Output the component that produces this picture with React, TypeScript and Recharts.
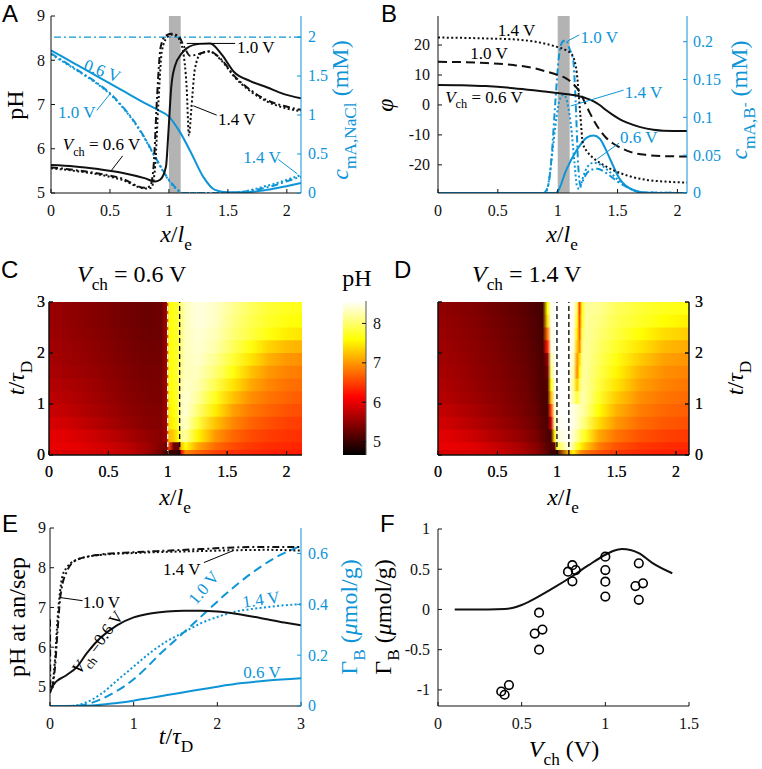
import React from "react";
import {
  ComposedChart,
  Line,
  Scatter,
  XAxis,
  YAxis,
  ReferenceArea,
  ReferenceLine,
  ReferenceDot,
} from "recharts";

const SERIF = "Liberation Serif";
const SANS = "Liberation Sans";
const BLUE = "#0e95d7";
const INK = "#111";
const GREY = "#b3b3b3";
const DASHDOT = "7 3 2 3";
const DOTTED = "2 2.4";
const DASHED = "9 5";

// ---- A: pH (left) and c mA,NaCl (right) along x/le
const aX06 = [0, 0.2, 0.4, 0.6, 0.8, 0.88, 0.925, 0.975, 0.995, 1.02, 1.05, 1.11, 1.15, 1.26, 1.35, 1.45, 1.55, 1.69, 1.83, 1.97, 2.12];
const aPh06 = [5.63, 5.6, 5.54, 5.46, 5.33, 5.26, 5.3, 5.6, 6.35, 7.4, 7.86, 8.16, 8.27, 8.37, 8.38, 8.12, 7.74, 7.53, 7.39, 7.24, 7.14];
const aX10 = [0, 0.2, 0.4, 0.6, 0.79, 0.84, 0.87, 0.9, 0.93, 0.97, 1.02, 1.08, 1.13, 1.18, 1.26, 1.34, 1.45, 1.55, 1.69, 1.83, 1.97, 2.12];
const aPh10 = [5.58, 5.52, 5.44, 5.33, 5.12, 5.15, 5.6, 7.2, 8.3, 8.55, 8.6, 8.55, 8.3, 8.1, 8.15, 8.2, 8.0, 7.66, 7.33, 7.1, 6.97, 6.88];
const aX14 = [0, 0.2, 0.4, 0.6, 0.8, 0.85, 0.88, 0.91, 0.94, 0.98, 1.03, 1.08, 1.12, 1.15, 1.17, 1.19, 1.22, 1.27, 1.34, 1.45, 1.55, 1.69, 1.83, 1.97, 2.12];
const aPh14 = [5.56, 5.5, 5.42, 5.3, 5.1, 5.12, 5.5, 7.0, 8.2, 8.5, 8.58, 8.5, 8.2, 7.4, 6.3, 6.9, 7.8, 8.15, 8.2, 7.98, 7.64, 7.3, 7.07, 6.93, 6.85];
const aCX06 = [0, 0.2, 0.4, 0.6, 0.8, 0.9, 1.0, 1.09, 1.19, 1.29, 1.39, 1.5, 1.65, 1.83, 1.97, 2.12];
const aC06 = [1.83, 1.66, 1.49, 1.32, 1.15, 1.07, 0.98, 0.79, 0.51, 0.21, 0.04, 0.01, 0.01, 0.04, 0.08, 0.13];
const aCX = [0, 0.2, 0.4, 0.5, 0.6, 0.7, 0.79, 0.9, 1.0, 1.07, 1.12, 1.3, 1.5, 1.6, 1.7, 1.8, 1.9, 2.0, 2.12];
const aC10 = [1.79, 1.6, 1.4, 1.28, 1.12, 0.93, 0.72, 0.42, 0.17, 0.05, 0.0, 0.0, 0.0, 0.01, 0.03, 0.06, 0.1, 0.15, 0.21];
const aC14 = [1.78, 1.59, 1.39, 1.27, 1.11, 0.92, 0.71, 0.41, 0.16, 0.04, 0.0, 0.0, 0.0, 0.01, 0.04, 0.08, 0.12, 0.17, 0.23];

// ---- B: potential phi (left) and c mA,B- (right)
const bX06 = [0, 0.2, 0.4, 0.63, 0.8, 0.91, 1.0, 1.13, 1.24, 1.3, 1.35, 1.4, 1.46, 1.52, 1.58, 1.69, 1.8, 1.88, 2.08];
const bPhi06 = [6.7, 6.6, 6.3, 5.6, 4.9, 4.4, 4.0, 3.3, 2.2, 1.2, 0, -1.6, -3.3, -4.8, -5.9, -7.4, -8.3, -8.6, -8.7];
const bX10 = [0, 0.2, 0.4, 0.63, 0.8, 0.91, 1.0, 1.07, 1.13, 1.19, 1.23, 1.27, 1.31, 1.35, 1.4, 1.46, 1.53, 1.6, 1.74, 1.9, 2.08];
const bPhi10 = [14.4, 14.3, 14.0, 13.3, 12.3, 11.1, 10.0, 8.9, 7.0, 3.9, 0.5, -2.8, -5.8, -8.3, -10.8, -12.8, -14.4, -15.6, -16.7, -17.1, -17.2];
const bX14 = [0, 0.2, 0.4, 0.63, 0.8, 0.91, 1.0, 1.07, 1.11, 1.13, 1.16, 1.19, 1.21, 1.25, 1.3, 1.38, 1.46, 1.6, 1.74, 1.9, 2.08];
const bPhi14 = [22.5, 22.4, 22.2, 21.9, 21.2, 20.3, 19.3, 18.3, 17.2, 16, 10.5, -3.9, -12.8, -15.8, -17.8, -20.0, -21.7, -23.8, -25, -25.6, -25.9];
const bCX06 = [0, 0.98, 1.0, 1.07, 1.16, 1.24, 1.3, 1.35, 1.4, 1.44, 1.52, 1.63, 1.75, 2.08];
const bC06 = [0, 0, 0.002, 0.03, 0.057, 0.073, 0.076, 0.072, 0.058, 0.044, 0.018, 0.004, 0, 0];
const bCX10 = [0, 0.88, 0.92, 0.95, 0.98, 1.01, 1.04, 1.07, 1.1, 1.13, 1.15, 1.17, 1.19, 1.22, 1.27, 1.33, 1.4, 1.5, 1.6, 1.7, 2.08];
const bC10 = [0, 0, 0.01, 0.05, 0.12, 0.18, 0.2, 0.202, 0.19, 0.175, 0.12, 0.04, 0.01, 0.02, 0.03, 0.032, 0.027, 0.015, 0.006, 0.001, 0];
const bCX14 = [0, 0.9, 0.93, 0.96, 0.99, 1.02, 1.05, 1.08, 1.11, 1.14, 1.16, 1.18, 1.21, 1.25, 1.3, 1.35, 1.42, 1.5, 1.6, 1.7, 2.08];
const bC14 = [0, 0, 0.02, 0.06, 0.1, 0.125, 0.13, 0.12, 0.09, 0.04, 0.01, 0.005, 0.02, 0.035, 0.04, 0.038, 0.03, 0.018, 0.006, 0.001, 0];

// ---- C / D: pH maps, bands of t (top band first), pH sampled at the x stops
const T_EDGES = [0, 0.1, 0.25, 0.5, 0.75, 1, 1.25, 1.5, 1.75, 2, 2.25, 2.5, 2.75, 3];
const cXs = [0, 0.15, 0.3, 0.5, 0.7, 0.85, 0.95, 0.99, 1.01, 1.05, 1.09, 1.11, 1.15, 1.25, 1.4, 1.55, 1.7, 1.85, 2.0, 2.13];
const cRows = [
  [5.55, 5.5, 5.45, 5.38, 5.3, 5.27, 5.3, 5.6, 7.6, 7.7, 7.8, 8.1, 8.3, 8.45, 8.35, 8.15, 7.95, 7.8, 7.72, 7.68],
  [5.55, 5.5, 5.45, 5.38, 5.3, 5.27, 5.3, 5.6, 7.6, 7.7, 7.8, 8.1, 8.3, 8.45, 8.35, 8.1, 7.9, 7.75, 7.65, 7.6],
  [5.57, 5.52, 5.47, 5.4, 5.32, 5.28, 5.3, 5.6, 7.6, 7.7, 7.8, 8.1, 8.3, 8.42, 8.3, 8.05, 7.85, 7.65, 7.5, 7.45],
  [5.6, 5.55, 5.5, 5.42, 5.34, 5.3, 5.32, 5.6, 7.6, 7.7, 7.8, 8.15, 8.3, 8.4, 8.25, 7.95, 7.65, 7.35, 7.2, 7.15],
  [5.62, 5.57, 5.52, 5.44, 5.36, 5.32, 5.33, 5.6, 7.6, 7.7, 7.8, 8.15, 8.3, 8.38, 8.15, 7.8, 7.45, 7.15, 7.0, 6.95],
  [5.65, 5.6, 5.55, 5.47, 5.38, 5.34, 5.35, 5.6, 7.6, 7.7, 7.85, 8.2, 8.3, 8.33, 8.05, 7.65, 7.25, 7.0, 6.88, 6.83],
  [5.7, 5.65, 5.6, 5.5, 5.4, 5.36, 5.37, 5.6, 7.6, 7.7, 7.85, 8.25, 8.35, 8.28, 7.9, 7.45, 7.1, 6.9, 6.78, 6.74],
  [5.75, 5.7, 5.63, 5.53, 5.43, 5.38, 5.38, 5.6, 7.55, 7.65, 7.85, 8.3, 8.4, 8.2, 7.7, 7.25, 6.95, 6.8, 6.7, 6.65],
  [5.82, 5.76, 5.68, 5.57, 5.46, 5.4, 5.4, 5.6, 7.5, 7.6, 7.85, 8.3, 8.4, 8.05, 7.5, 7.05, 6.82, 6.7, 6.6, 6.57],
  [5.9, 5.85, 5.76, 5.63, 5.5, 5.43, 5.42, 5.6, 7.45, 7.55, 7.8, 8.3, 8.35, 7.85, 7.25, 6.9, 6.7, 6.58, 6.5, 6.47],
  [5.98, 5.95, 5.88, 5.75, 5.6, 5.5, 5.45, 5.6, 7.2, 7.3, 7.6, 8.15, 8.2, 7.55, 7.0, 6.72, 6.56, 6.47, 6.42, 6.4],
  [6.0, 6.0, 5.95, 5.85, 5.7, 5.55, 5.4, 5.3, 6.5, 5.3, 5.25, 7.2, 7.6, 7.1, 6.75, 6.55, 6.45, 6.38, 6.35, 6.33],
  [5.9, 5.92, 5.9, 5.85, 5.75, 5.55, 5.3, 5.1, 5.05, 5.0, 5.0, 6.0, 6.9, 6.7, 6.5, 6.4, 6.35, 6.3, 6.28, 6.27],
];
const dXs = [0, 0.15, 0.3, 0.5, 0.7, 0.82, 0.88, 0.92, 0.95, 0.98, 1.0, 1.1, 1.14, 1.17, 1.19, 1.21, 1.24, 1.35, 1.5, 1.7, 1.9, 2.11];
const dRows = [
  [5.5, 5.45, 5.4, 5.3, 5.2, 5.1, 5.05, 7.6, 8.5, 8.55, 8.57, 8.57, 8.5, 7.9, 6.5, 7.6, 8.2, 8.15, 7.95, 7.8, 7.7, 7.65],
  [5.52, 5.47, 5.42, 5.32, 5.22, 5.12, 5.06, 7.4, 8.5, 8.55, 8.57, 8.57, 8.5, 7.7, 6.6, 7.7, 8.2, 8.1, 7.9, 7.75, 7.6, 7.5],
  [5.55, 5.5, 5.44, 5.35, 5.24, 5.13, 5.06, 6.8, 8.45, 8.55, 8.57, 8.57, 8.45, 7.5, 6.7, 7.9, 8.2, 8.05, 7.85, 7.6, 7.4, 7.3],
  [5.58, 5.52, 5.46, 5.37, 5.26, 5.15, 5.07, 6.3, 8.4, 8.55, 8.57, 8.57, 8.4, 7.3, 6.9, 8.0, 8.2, 8.0, 7.75, 7.45, 7.2, 7.1],
  [5.6, 5.55, 5.48, 5.39, 5.28, 5.17, 5.08, 5.5, 8.2, 8.5, 8.57, 8.57, 8.3, 7.0, 7.4, 8.1, 8.2, 7.95, 7.65, 7.3, 7.05, 6.98],
  [5.63, 5.58, 5.5, 5.41, 5.3, 5.19, 5.09, 5.3, 8.0, 8.5, 8.57, 8.57, 8.2, 6.9, 7.6, 8.15, 8.2, 7.9, 7.55, 7.15, 6.95, 6.88],
  [5.67, 5.61, 5.53, 5.43, 5.32, 5.2, 5.1, 5.15, 7.6, 8.45, 8.57, 8.57, 8.1, 7.3, 7.9, 8.2, 8.2, 7.85, 7.45, 7.05, 6.88, 6.8],
  [5.72, 5.65, 5.57, 5.46, 5.34, 5.22, 5.11, 5.1, 7.2, 8.4, 8.57, 8.57, 8.2, 7.8, 8.1, 8.25, 8.2, 7.75, 7.3, 6.95, 6.8, 6.73],
  [5.8, 5.72, 5.63, 5.5, 5.37, 5.25, 5.13, 5.08, 6.5, 8.3, 8.55, 8.57, 8.45, 8.35, 8.3, 8.25, 8.15, 7.6, 7.15, 6.85, 6.72, 6.66],
  [5.88, 5.8, 5.7, 5.56, 5.42, 5.3, 5.17, 5.1, 5.8, 8.2, 8.5, 8.57, 8.45, 8.35, 8.25, 8.15, 8.0, 7.4, 7.0, 6.75, 6.63, 6.58],
  [5.97, 5.92, 5.82, 5.66, 5.5, 5.36, 5.22, 5.12, 5.1, 7.5, 8.4, 8.55, 8.35, 8.15, 8.0, 7.85, 7.7, 7.1, 6.8, 6.6, 6.5, 6.45],
  [6.0, 6.0, 5.95, 5.8, 5.62, 5.45, 5.3, 5.18, 5.1, 5.2, 7.8, 8.5, 8.1, 7.8, 7.6, 7.45, 7.3, 6.85, 6.6, 6.45, 6.38, 6.35],
  [5.9, 5.92, 5.9, 5.82, 5.68, 5.5, 5.35, 5.2, 5.05, 5.0, 5.2, 7.2, 7.5, 7.2, 7.0, 6.9, 6.8, 6.6, 6.45, 6.35, 6.3, 6.28],
];

// ---- E: pH at anode/separator (left) and Gamma_B (right) vs t/tauD
const eT06 = [0, 0.04, 0.2, 0.32, 0.44, 0.6, 0.8, 1.0, 1.2, 1.4, 1.6, 1.8, 2.0, 2.2, 2.5, 2.8, 3.0];
const ePh06 = [4.85, 5.05, 5.3, 5.5, 5.85, 6.23, 6.55, 6.75, 6.85, 6.9, 6.92, 6.92, 6.9, 6.85, 6.74, 6.62, 6.55];
const eT10 = [0, 0.005, 0.03, 0.06, 0.09, 0.12, 0.15, 0.2, 0.32, 0.6, 1.0, 1.4, 1.8, 2.4, 3.0];
const ePh10 = [6.7, 4.9, 5.0, 5.5, 6.4, 7.2, 7.6, 7.9, 8.2, 8.33, 8.39, 8.43, 8.47, 8.52, 8.52];
const eT14 = [0, 0.03, 0.06, 0.09, 0.12, 0.15, 0.2, 0.32, 0.6, 1.0, 1.4, 1.8, 2.2, 2.6, 3.0];
const ePh14 = [5.0, 5.1, 5.7, 6.7, 7.4, 7.8, 8.0, 8.2, 8.32, 8.37, 8.4, 8.42, 8.44, 8.45, 8.43];
const eGT06 = [0, 0.5, 0.8, 1.0, 1.2, 1.4, 1.7, 2.0, 2.3, 2.6, 3.0];
const eG06 = [0, 0.002, 0.012, 0.021, 0.032, 0.043, 0.06, 0.076, 0.09, 0.1, 0.109];
const eGT10 = [0, 0.3, 0.45, 0.6, 0.75, 0.9, 1.0, 1.15, 1.3, 1.5, 1.8, 2.1, 2.4, 2.7, 3.0];
const eG10 = [0, 0, 0.008, 0.025, 0.05, 0.08, 0.105, 0.15, 0.2, 0.26, 0.35, 0.44, 0.52, 0.585, 0.63];
const eGT14 = [0, 0.25, 0.4, 0.6, 0.8, 1.0, 1.2, 1.4, 1.6, 1.8, 2.0, 2.2, 2.5, 2.8, 3.0];
const eG14 = [0, 0, 0.01, 0.045, 0.1, 0.155, 0.21, 0.255, 0.29, 0.325, 0.35, 0.37, 0.385, 0.396, 0.4];

// ---- F: Gamma_B vs Vch, model curve and experiments
const fV = [0.1, 0.2, 0.3, 0.4, 0.45, 0.5, 0.6, 0.7, 0.8, 0.9, 1.0, 1.05, 1.1, 1.15, 1.2, 1.28, 1.4];
const fG = [0, 0, 0, 0.005, 0.02, 0.056, 0.16, 0.28, 0.41, 0.55, 0.68, 0.73, 0.75, 0.74, 0.7, 0.58, 0.45];
const fExpV = [0.378, 0.398, 0.424, 0.578, 0.604, 0.624, 0.604, 0.777, 0.803, 0.823, 0.803, 1.0, 1.0, 1.0, 1.0, 1.2, 1.18, 1.225, 1.2];
const fExpG = [-1.02, -1.06, -0.94, -0.3, -0.04, -0.25, -0.5, 0.47, 0.55, 0.49, 0.35, 0.656, 0.49, 0.345, 0.16, 0.573, 0.29, 0.325, 0.12];

const X_TICKS = [0, 0.5, 1, 1.5, 2];
const T_TICKS = [0, 1, 2, 3];
const PH_MIN = 4.66;
const PH_MAX = 8.57;

const pts = (xs: number[], ys: number[]) => xs.map((x, i) => ({ x, y: ys[i] }));

// matlab "hot" colormap
function hot(ph: number) {
  const f = Math.min(1, Math.max(0, (ph - PH_MIN) / (PH_MAX - PH_MIN)));
  const r = Math.min(1, f / 0.375);
  const g = Math.min(1, Math.max(0, (f - 0.375) / 0.375));
  const b = Math.min(1, Math.max(0, (f - 0.75) / 0.25));
  return `rgb(${Math.round(r * 255)},${Math.round(g * 255)},${Math.round(b * 255)})`;
}
const CB_STOPS = [PH_MIN, PH_MIN + 0.375 * (PH_MAX - PH_MIN), PH_MIN + 0.75 * (PH_MAX - PH_MIN), PH_MAX];

type Seg = { t: string; it?: boolean; dy?: number; sc?: number };

function rich(
  segs: Seg[],
  x: number,
  y: number,
  o: { size?: number; fill?: string; anchor?: string; rot?: number; font?: string } = {}
) {
  const size = o.size ?? 17;
  let cur = 0;
  return (
    <text
      x={x}
      y={y}
      fontSize={size}
      fontFamily={o.font ?? SERIF}
      fill={o.fill ?? "#000"}
      textAnchor={(o.anchor ?? "start") as any}
      transform={o.rot ? `rotate(${o.rot} ${x} ${y})` : undefined}
    >
      {segs.map((s, k) => {
        const target = (s.dy ?? 0) * size;
        const d = target - cur;
        cur = target;
        return (
          <tspan key={k} dy={d} fontStyle={s.it ? "italic" : "normal"} fontSize={(s.sc ?? 1) * size}>
            {s.t}
          </tspan>
        );
      })}
    </text>
  );
}

const volts = (v: string): Seg[] => [{ t: `${v} V` }];
const vch = (v: string, eq = "\u00a0=\u00a0"): Seg[] => [
  { t: "V", it: true },
  { t: "ch", dy: 0.33, sc: 0.72 },
  { t: `${eq}${v} V`, dy: 0 },
];
const X_LE: Seg[] = [{ t: "x", it: true }, { t: "/" }, { t: "l", it: true }, { t: "e", dy: 0.35, sc: 0.72 }];
const T_TD: Seg[] = [{ t: "t", it: true }, { t: "/" }, { t: "τ", it: true }, { t: "D", dy: 0.35, sc: 0.72 }];
const GAMMA_B: Seg[] = [{ t: "Γ" }, { t: "B", dy: 0.35, sc: 0.72 }, { t: "\u00a0(", dy: 0 }, { t: "μ", it: true }, { t: "mol/g)" }];
const C_NACL: Seg[] = [{ t: "c", it: true }, { t: "mA,NaCl", dy: 0.35, sc: 0.72 }, { t: "\u00a0(mM)", dy: 0 }];
const C_B: Seg[] = [{ t: "c", it: true }, { t: "mA,B", dy: 0.35, sc: 0.72 }, { t: "-", dy: 0.08, sc: 0.6 }, { t: "\u00a0(mM)", dy: 0 }];
const V_AX: Seg[] = [{ t: "V", it: true }, { t: "ch", dy: 0.35, sc: 0.72 }, { t: "\u00a0(V)", dy: 0 }];

// tick labels drawn by hand so that the serif face and size stick
const tickText = (color: string, show: boolean) => (p: any) => {
  if (!show) return <g />;
  const va = p.verticalAnchor;
  const dy = va === "start" ? "0.71em" : va === "middle" ? "0.34em" : "0";
  return (
    <text
      x={p.x}
      y={p.y}
      dy={dy}
      textAnchor={p.textAnchor}
      fill={color}
      fontSize={16}
      fontFamily={SERIF}
      className="tick-serif"
      style={{ fontFamily: SERIF, fontSize: 16 }}
    >
      {String(p.payload.value)}
    </text>
  );
};

const axisProps = (color: string, margin: number, labels = true) => ({
  type: "number" as const,
  tickSize: -4,
  tickMargin: margin,
  axisLine: { stroke: color, strokeWidth: 1 },
  tickLine: { stroke: color, strokeWidth: 1 },
  tick: tickText(color, labels),
  interval: 0 as const,
  allowDataOverflow: true,
});

const note = (key: string, x: number, y: number, segs: Seg[], o: { fill?: string; rot?: number; yId?: string | number } = {}) => (
  <ReferenceDot
    key={key}
    x={x}
    y={y}
    yAxisId={o.yId ?? 0}
    r={1}
    ifOverflow="visible"
    shape={(p: any) => rich(segs, p.cx, p.cy, { fill: o.fill ?? "#000", rot: o.rot })}
  />
);

const lead = (key: string, x1: number, y1: number, x2: number, y2: number, color = "#000", yId: string | number = 0) => (
  <ReferenceLine
    key={key}
    yAxisId={yId}
    segment={[{ x: x1, y: y1 }, { x: x2, y: y2 }]}
    stroke={color}
    strokeWidth={1}
    ifOverflow="visible"
  />
);

const line = (key: string, xs: number[], ys: number[], color: string, dash?: string, yId: string | number = 0, w = 2) => (
  <Line
    key={key}
    data={pts(xs, ys)}
    dataKey="y"
    yAxisId={yId}
    type="monotone"
    stroke={color}
    strokeWidth={w}
    strokeDasharray={dash}
    dot={false}
    activeDot={false}
    isAnimationActive={false}
  />
);

function PanelA() {
  return (
    <ComposedChart width={380} height={255} margin={{ top: 16, right: 0, bottom: 0, left: 0 }}>
      <ReferenceArea x1={1} x2={1.1} fill={GREY} fillOpacity={1} stroke="none" />
      <ReferenceLine yAxisId="r" y={2} stroke={BLUE} strokeWidth={1.2} strokeDasharray={DASHDOT} />
      {line("c06", aCX06, aC06, BLUE, undefined, "r")}
      {line("c10", aCX, aC10, BLUE, DASHDOT, "r")}
      {line("c14", aCX, aC14, BLUE, DOTTED, "r")}
      {line("p06", aX06, aPh06, INK)}
      {line("p10", aX10, aPh10, INK, DASHDOT)}
      {line("p14", aX14, aPh14, INK, DOTTED)}
      <XAxis {...axisProps(INK, 16)} dataKey="x" domain={[0, 2.12]} ticks={X_TICKS} height={62} />
      <XAxis {...axisProps(INK, 0, false)} xAxisId="top" orientation="top" domain={[0, 2.12]} ticks={X_TICKS} height={0} />
      <YAxis {...axisProps(INK, 10)} domain={[5, 9]} ticks={[5, 6, 7, 8, 9]} width={51} />
      <YAxis {...axisProps(BLUE, 11)} yAxisId="r" orientation="right" domain={[0, 2.27]} ticks={[0, 0.5, 1, 1.5, 2]} width={79} />
      {lead("l1", 1.151, 8.38, 1.561, 8.38)}
      {note("n1", 1.578, 8.16, volts("1.0"))}
      {lead("l2", 1.207, 6.97, 1.405, 6.76)}
      {note("n2", 1.416, 6.54, volts("1.4"))}
      {lead("l3", 0.515, 5.52, 0.608, 5.84)}
      {note("n3", 0.1, 5.97, vch("0.6"))}
      {note("n4", 0.27, 1.58, volts("0.6"), { fill: BLUE, rot: 20, yId: "r" })}
      {lead("l5", 0.388, 1.06, 0.5, 1.27, BLUE, "r")}
      {note("n5", 0.06, 0.96, volts("1.0"), { fill: BLUE, yId: "r" })}
      {lead("l6", 1.928, 0.43, 2.09, 0.244, BLUE, "r")}
      {note("n6", 1.63, 0.385, volts("1.4"), { fill: BLUE, yId: "r" })}
    </ComposedChart>
  );
}

function PanelB() {
  return (
    <ComposedChart width={382} height={255} margin={{ top: 16, right: 0, bottom: 0, left: 0 }}>
      <ReferenceArea x1={1} x2={1.1} fill={GREY} fillOpacity={1} stroke="none" />
      {line("c06", bCX06, bC06, BLUE, undefined, "r")}
      {line("c10", bCX10, bC10, BLUE, DASHDOT, "r")}
      {line("c14", bCX14, bC14, BLUE, DOTTED, "r")}
      {line("p06", bX06, bPhi06, INK)}
      {line("p10", bX10, bPhi10, INK, DASHED)}
      {line("p14", bX14, bPhi14, INK, DOTTED)}
      <XAxis {...axisProps(INK, 16)} dataKey="x" domain={[0, 2.08]} ticks={X_TICKS} height={62} />
      <XAxis {...axisProps(INK, 0, false)} xAxisId="top" orientation="top" domain={[0, 2.08]} ticks={X_TICKS} height={0} />
      <YAxis {...axisProps(INK, 12)} domain={[-29.4, 29.7]} ticks={[-20, -10, 0, 10, 20]} width={58} />
      <YAxis {...axisProps(BLUE, 10)} yAxisId="r" orientation="right" domain={[0, 0.234]} ticks={[0, 0.05, 0.1, 0.15, 0.2]} width={75} />
      {note("n1", 0.5, 23, volts("1.4"))}
      {note("n2", 0.27, 15.3, volts("1.0"))}
      {note("n3", 0.06, 0.8, vch("0.6"))}
      {lead("l4", 1.083, 0.201, 1.18, 0.209, BLUE, "r")}
      {note("n4", 1.19, 0.198, volts("1.0"), { fill: BLUE, yId: "r" })}
      {lead("l5", 1.108, 0.115, 1.55, 0.136, BLUE, "r")}
      {note("n5", 1.56, 0.126, volts("1.4"), { fill: BLUE, yId: "r" })}
      {lead("l6", 1.33, 0.045, 1.513, 0.066, BLUE, "r")}
      {note("n6", 1.52, 0.066, volts("0.6"), { fill: BLUE, yId: "r" })}
    </ComposedChart>
  );
}

type HeatProps = {
  pid: string;
  rows: number[][];
  xMax: number;
  width: number;
  margin: { top: number; right: number; bottom: number; left: number };
  leftW: number;
  rightW: number;
  labelsRight: boolean;
  firstSep: string;
};

const heatAxes = (p: HeatProps) => [
  <XAxis key="xb" {...axisProps(INK, 15)} dataKey="x" domain={[0, p.xMax]} ticks={X_TICKS} height={55} />,
  <XAxis key="xt" {...axisProps(INK, 0, false)} xAxisId="top" orientation="top" domain={[0, p.xMax]} ticks={X_TICKS} height={0} />,
  <YAxis key="yl" {...axisProps(INK, 8, !p.labelsRight)} domain={[0, 3]} ticks={T_TICKS} width={p.leftW} />,
  <YAxis key="yr" {...axisProps(INK, 10, p.labelsRight)} yAxisId="r" orientation="right" domain={[0, 3]} ticks={T_TICKS} width={p.rightW} />,
];

function HeatPanel(p: HeatProps) {
  const n = p.rows.length;
  return (
    <div style={{ position: "relative", width: p.width, height: 255 }}>
      <ComposedChart width={p.width} height={255} margin={p.margin}>
        {p.rows.map((_, k) => (
          <ReferenceArea
            key={k}
            x1={0}
            x2={p.xMax}
            y1={Math.max(0, T_EDGES[n - 1 - k] - 0.02)}
            y2={T_EDGES[n - k]}
            fill={`url(#${p.pid}${k})`}
            fillOpacity={1}
            stroke="none"
            ifOverflow="hidden"
          />
        ))}
        <ReferenceLine x={1} stroke={p.firstSep} strokeWidth={1.3} strokeDasharray="5 3" />
        <ReferenceLine x={1.1} stroke="#000" strokeWidth={1.3} strokeDasharray="5 3" />
        {heatAxes({ ...p, labelsRight: p.labelsRight })}
      </ComposedChart>
      {/* second, transparent chart carries the box and ticks over the map */}
      <div style={{ position: "absolute", left: 0, top: 0 }}>
        <ComposedChart width={p.width} height={255} margin={p.margin}>
          {heatAxes(p)}
        </ComposedChart>
      </div>
    </div>
  );
}

function ColorBar() {
  return (
    <ComposedChart width={63} height={255} margin={{ top: 46, right: 0, bottom: 55, left: 10 }}>
      <XAxis {...axisProps(INK, 0, false)} dataKey="x" domain={[0, 1]} ticks={[0, 1]} height={0} tickLine={false} axisLine={{ stroke: "#555" }} />
      <XAxis {...axisProps(INK, 0, false)} xAxisId="top" orientation="top" domain={[0, 1]} ticks={[0, 1]} height={0} tickLine={false} axisLine={{ stroke: "#555" }} />
      <ReferenceArea x1={0} x2={1} y1={PH_MIN} y2={PH_MAX} fill="url(#cbar)" fillOpacity={1} stroke="none" ifOverflow="hidden" />
      <YAxis {...axisProps(INK, 0, false)} yAxisId="l" domain={[PH_MIN, PH_MAX]} ticks={[5, 6, 7, 8]} width={0} tickLine={false} axisLine={{ stroke: "#555" }} />
      <YAxis {...axisProps(INK, 11)} orientation="right" domain={[PH_MIN, PH_MAX]} ticks={[5, 6, 7, 8]} width={30} axisLine={{ stroke: "#555" }} />
    </ComposedChart>
  );
}

function PanelE() {
  return (
    <ComposedChart width={380} height={259} margin={{ top: 18, right: 0, bottom: 0, left: 0 }}>
      {line("g06", eGT06, eG06, BLUE, undefined, "r")}
      {line("g10", eGT10, eG10, BLUE, DASHED, "r")}
      {line("g14", eGT14, eG14, BLUE, DOTTED, "r")}
      {line("p06", eT06, ePh06, INK)}
      {line("p10", eT10, ePh10, INK, DASHDOT)}
      {line("p14", eT14, ePh14, INK, DOTTED)}
      <XAxis {...axisProps(INK, 16)} dataKey="x" domain={[0, 3]} ticks={T_TICKS} height={63} />
      <XAxis {...axisProps(INK, 0, false)} xAxisId="top" orientation="top" domain={[0, 3]} ticks={T_TICKS} height={0} />
      <YAxis {...axisProps(INK, 8)} domain={[4.52, 9]} ticks={[5, 6, 7, 8, 9]} width={50} />
      <YAxis {...axisProps(BLUE, 11)} yAxisId="r" orientation="right" domain={[0, 0.7]} ticks={[0, 0.2, 0.4, 0.6]} width={79} />
      {lead("l1", 0.12, 7.25, 0.39, 7.17)}
      {note("n1", 0.39, 6.98, volts("1.0"))}
      {lead("l2", 1.84, 8.13, 2.19, 8.43)}
      {note("n2", 1.35, 7.82, volts("1.4"))}
      {note("n3", 0.36, 5.3, vch("0.6", "\u00a0="), { rot: -53 })}
      {note("n4", 1.745, 0.394, volts("1.0"), { fill: BLUE, rot: -50, yId: "r" })}
      {note("n5", 2.31, 0.386, volts("1.4"), { fill: BLUE, rot: -8, yId: "r" })}
      {note("n6", 2.31, 0.11, volts("0.6"), { fill: BLUE, yId: "r" })}
    </ComposedChart>
  );
}

function PanelF() {
  return (
    <ComposedChart width={382} height={259} margin={{ top: 19, right: 73, bottom: 0, left: 0 }}>
      {line("model", fV, fG, INK)}
      <Scatter
        data={pts(fExpV, fExpG)}
        dataKey="y"
        isAnimationActive={false}
        shape={(p: any) => <circle cx={p.cx} cy={p.cy} r={4.3} fill="none" stroke="#000" strokeWidth={1.6} />}
      />
      <XAxis {...axisProps(INK, 16)} dataKey="x" domain={[0, 1.5]} ticks={[0, 0.5, 1, 1.5]} height={63} />
      <XAxis {...axisProps(INK, 0, false)} xAxisId="top" orientation="top" domain={[0, 1.5]} ticks={[0, 0.5, 1, 1.5]} height={0} />
      <YAxis {...axisProps(INK, 12)} dataKey="y" domain={[-1.2, 1]} ticks={[-1, -0.5, 0, 0.5, 1]} width={58} />
      <YAxis {...axisProps(INK, 0, false)} yAxisId="r" orientation="right" domain={[-1.2, 1]} ticks={[-1, -0.5, 0, 0.5, 1]} width={0} />
    </ComposedChart>
  );
}

const at = (left: number, top: number, child: React.ReactNode) => (
  <div style={{ position: "absolute", left, top }}>{child}</div>
);

const CSS = `
.recharts-cartesian-axis-tick text, .recharts-cartesian-axis-tick-value, text.tick-serif {
  font-family: "Liberation Serif", serif !important;
  font-size: 16px !important;
}`;

export default function App() {
  const grad = (pid: string, xs: number[], rows: number[][], xMax: number) =>
    rows.map((r, k) => (
      <linearGradient key={pid + k} id={`${pid}${k}`} x1="0" y1="0" x2="1" y2="0">
        {xs.map((x, j) => (
          <stop key={j} offset={x / xMax} stopColor={hot(r[j])} />
        ))}
      </linearGradient>
    ));
  return (
    <div style={{ position: "absolute", left: 0, top: 0, width: 762, height: 769, background: "#fff", overflow: "hidden", fontFamily: SERIF }}>
      <style>{CSS}</style>
      <svg width={0} height={0} style={{ position: "absolute" }}>
        <defs>
          {grad("hc", cXs, cRows, 2.13)}
          {grad("hd", dXs, dRows, 2.11)}
          <linearGradient id="cbar" x1="0" y1="1" x2="0" y2="0">
            {CB_STOPS.map((v, j) => (
              <stop key={j} offset={(v - PH_MIN) / (PH_MAX - PH_MIN)} stopColor={hot(v)} />
            ))}
          </linearGradient>
        </defs>
      </svg>
      {at(0, 0, <PanelA />)}
      {at(380, 0, <PanelB />)}
      {at(0, 255, (
        <HeatPanel pid="hc" rows={cRows} xMax={2.13} width={400}
          margin={{ top: 47, right: 98, bottom: 0, left: 0 }} leftW={49} rightW={0} labelsRight={false} firstSep="#fff" />
      ))}
      {at(333, 255, <ColorBar />)}
      {at(400, 255, (
        <HeatPanel pid="hd" rows={dRows} xMax={2.11} width={362}
          margin={{ top: 47, right: 0, bottom: 0, left: 0 }} leftW={38} rightW={73} labelsRight={true} firstSep="#000" />
      ))}
      {at(0, 510, <PanelE />)}
      {at(380, 510, <PanelF />)}
      <svg width={762} height={769} style={{ position: "absolute", left: 0, top: 0, pointerEvents: "none" }}>
        {rich([{ t: "A" }], 2, 22, { font: SANS, size: 24 })}
        {rich([{ t: "B" }], 381, 22, { font: SANS, size: 24 })}
        {rich([{ t: "C" }], 1, 278, { font: SANS, size: 24 })}
        {rich([{ t: "D" }], 394, 278, { font: SANS, size: 24 })}
        {rich([{ t: "E" }], 2, 532, { font: SANS, size: 24 })}
        {rich([{ t: "F" }], 380, 532, { font: SANS, size: 24 })}

        {rich([{ t: "pH" }], 23, 105, { size: 24, rot: -90, anchor: "middle" })}
        {rich(C_NACL, 348, 110, { size: 24, rot: -90, anchor: "middle", fill: BLUE })}
        {rich(X_LE, 176, 242, { size: 24, anchor: "middle" })}

        {rich([{ t: "φ", it: true }], 393, 105, { size: 24, rot: -90, anchor: "middle" })}
        {rich(C_B, 747, 100, { size: 24, rot: -90, anchor: "middle", fill: BLUE })}
        {rich(X_LE, 562, 242, { size: 24, anchor: "middle" })}

        {rich(vch("0.6"), 77, 282, { size: 24 })}
        {rich(T_TD, 24, 378, { size: 24, rot: -90, anchor: "middle" })}
        {rich(X_LE, 175, 505, { size: 24, anchor: "middle" })}
        {rich([{ t: "pH" }], 357, 286, { size: 24, anchor: "middle" })}

        {rich(vch("1.4"), 472, 282, { size: 24 })}
        {rich(T_TD, 743, 378, { size: 24, rot: -90, anchor: "middle" })}
        {rich(X_LE, 563, 505, { size: 24, anchor: "middle" })}

        {rich([{ t: "pH at an/sep" }], 25, 617, { size: 24, rot: -90, anchor: "middle" })}
        {rich(GAMMA_B, 357, 617, { size: 24, rot: -90, anchor: "middle", fill: BLUE })}
        {rich(T_TD, 176, 744, { size: 24, anchor: "middle" })}

        {rich(GAMMA_B, 391, 617, { size: 24, rot: -90, anchor: "middle" })}
        {rich(V_AX, 564, 757, { size: 24, anchor: "middle" })}
      </svg>
    </div>
  );
}
